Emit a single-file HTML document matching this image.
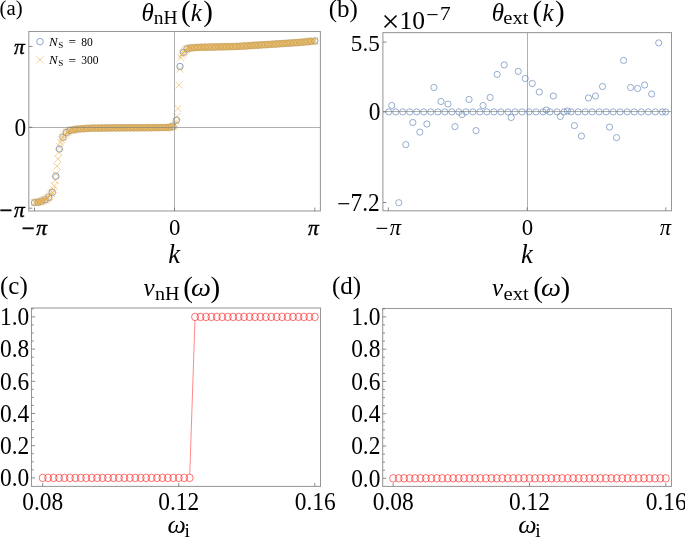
<!DOCTYPE html>
<html lang="en"><head><meta charset="utf-8"><title>Figure</title>
<style>html,body{margin:0;padding:0;background:#fff}body{width:685px;height:537px;overflow:hidden}svg{display:block;will-change:transform}text{font-family:"Liberation Serif", "DejaVu Serif", serif;fill:#000}.it{font-style:italic}</style>
</head><body>
<svg width="685" height="537" viewBox="0 0 685 537">
<rect width="685" height="537" fill="#fff"/>
<g id="panel-a">
<g fill="none" stroke="#5E81B5" stroke-width="0.75">
<circle cx="34.5" cy="202.67" r="3.2"/>
<circle cx="38.05" cy="202.19" r="3.2"/>
<circle cx="41.6" cy="201.16" r="3.2"/>
<circle cx="45.14" cy="199.78" r="3.2"/>
<circle cx="48.69" cy="197.42" r="3.2"/>
<circle cx="52.24" cy="192.39" r="3.2"/>
<circle cx="55.79" cy="176.17" r="3.2"/>
<circle cx="59.34" cy="149.05" r="3.2"/>
<circle cx="62.88" cy="137.23" r="3.2"/>
<circle cx="66.43" cy="132.52" r="3.2"/>
<circle cx="69.98" cy="130.41" r="3.2"/>
<circle cx="73.53" cy="129.78" r="3.2"/>
<circle cx="77.08" cy="129.16" r="3.2"/>
<circle cx="80.63" cy="128.82" r="3.2"/>
<circle cx="84.17" cy="128.59" r="3.2"/>
<circle cx="87.72" cy="128.35" r="3.2"/>
<circle cx="91.27" cy="128.18" r="3.2"/>
<circle cx="94.82" cy="128.14" r="3.2"/>
<circle cx="98.37" cy="128.1" r="3.2"/>
<circle cx="101.91" cy="128.05" r="3.2"/>
<circle cx="105.46" cy="128.01" r="3.2"/>
<circle cx="109.01" cy="127.96" r="3.2"/>
<circle cx="112.56" cy="127.92" r="3.2"/>
<circle cx="116.11" cy="127.89" r="3.2"/>
<circle cx="119.65" cy="127.87" r="3.2"/>
<circle cx="123.2" cy="127.85" r="3.2"/>
<circle cx="126.75" cy="127.83" r="3.2"/>
<circle cx="130.3" cy="127.81" r="3.2"/>
<circle cx="133.85" cy="127.79" r="3.2"/>
<circle cx="137.39" cy="127.77" r="3.2"/>
<circle cx="140.94" cy="127.75" r="3.2"/>
<circle cx="144.49" cy="127.73" r="3.2"/>
<circle cx="148.04" cy="127.71" r="3.2"/>
<circle cx="151.59" cy="127.68" r="3.2"/>
<circle cx="155.14" cy="127.65" r="3.2"/>
<circle cx="158.68" cy="127.61" r="3.2"/>
<circle cx="162.23" cy="127.58" r="3.2"/>
<circle cx="165.78" cy="127.54" r="3.2"/>
<circle cx="169.33" cy="127.51" r="3.2"/>
<circle cx="172.88" cy="126.29" r="3.2"/>
<circle cx="176.42" cy="120.24" r="3.2"/>
<circle cx="179.97" cy="66.46" r="3.2"/>
<circle cx="183.52" cy="52.36" r="3.2"/>
<circle cx="187.07" cy="48.81" r="3.2"/>
<circle cx="190.62" cy="47.9" r="3.2"/>
<circle cx="194.16" cy="47.62" r="3.2"/>
<circle cx="197.71" cy="47.43" r="3.2"/>
<circle cx="201.26" cy="47.27" r="3.2"/>
<circle cx="204.81" cy="47.19" r="3.2"/>
<circle cx="208.36" cy="47.11" r="3.2"/>
<circle cx="211.91" cy="47.04" r="3.2"/>
<circle cx="215.45" cy="46.96" r="3.2"/>
<circle cx="219" cy="46.88" r="3.2"/>
<circle cx="222.55" cy="46.8" r="3.2"/>
<circle cx="226.1" cy="46.72" r="3.2"/>
<circle cx="229.65" cy="46.64" r="3.2"/>
<circle cx="233.19" cy="46.56" r="3.2"/>
<circle cx="236.74" cy="46.45" r="3.2"/>
<circle cx="240.29" cy="46.23" r="3.2"/>
<circle cx="243.84" cy="46.01" r="3.2"/>
<circle cx="247.39" cy="45.79" r="3.2"/>
<circle cx="250.93" cy="45.57" r="3.2"/>
<circle cx="254.48" cy="45.34" r="3.2"/>
<circle cx="258.03" cy="45.12" r="3.2"/>
<circle cx="261.58" cy="44.9" r="3.2"/>
<circle cx="265.13" cy="44.67" r="3.2"/>
<circle cx="268.67" cy="44.44" r="3.2"/>
<circle cx="272.22" cy="44.22" r="3.2"/>
<circle cx="275.77" cy="43.99" r="3.2"/>
<circle cx="279.32" cy="43.76" r="3.2"/>
<circle cx="282.87" cy="43.54" r="3.2"/>
<circle cx="286.42" cy="43.31" r="3.2"/>
<circle cx="289.96" cy="43.07" r="3.2"/>
<circle cx="293.51" cy="42.83" r="3.2"/>
<circle cx="297.06" cy="42.6" r="3.2"/>
<circle cx="300.61" cy="42.34" r="3.2"/>
<circle cx="304.16" cy="41.98" r="3.2"/>
<circle cx="307.7" cy="41.63" r="3.2"/>
<circle cx="311.25" cy="41.27" r="3.2"/>
<circle cx="314.8" cy="40.92" r="3.2"/>
</g>
<path d="M31 199.17l7 7m0 -7l-7 7M31.94 199.05l7 7m0 -7l-7 7M32.87 198.92l7 7m0 -7l-7 7M33.81 198.79l7 7m0 -7l-7 7M34.75 198.63l7 7m0 -7l-7 7M35.69 198.36l7 7m0 -7l-7 7M36.62 198.09l7 7m0 -7l-7 7M37.56 197.83l7 7m0 -7l-7 7M38.5 197.51l7 7m0 -7l-7 7M39.44 197.14l7 7m0 -7l-7 7M40.37 196.77l7 7m0 -7l-7 7M41.31 196.41l7 7m0 -7l-7 7M42.25 195.99l7 7m0 -7l-7 7M43.19 195.33l7 7m0 -7l-7 7M44.12 194.67l7 7m0 -7l-7 7M45.06 194.01l7 7m0 -7l-7 7M46 192.96l7 7m0 -7l-7 7M46.94 191.57l7 7m0 -7l-7 7M47.87 190.17l7 7m0 -7l-7 7M48.81 188.78l7 7m0 -7l-7 7M49.75 185.86l7 7m0 -7l-7 7M50.69 182.55l7 7m0 -7l-7 7M51.62 176.78l7 7m0 -7l-7 7M52.56 170.43l7 7m0 -7l-7 7M53.5 162.66l7 7m0 -7l-7 7M54.44 155.42l7 7m0 -7l-7 7M55.37 148.81l7 7m0 -7l-7 7M56.31 143.27l7 7m0 -7l-7 7M57.25 139.11l7 7m0 -7l-7 7M58.19 136.45l7 7m0 -7l-7 7M59.12 134.33l7 7m0 -7l-7 7M60.06 132.81l7 7m0 -7l-7 7M61 131.54l7 7m0 -7l-7 7M61.94 130.27l7 7m0 -7l-7 7M62.87 129.06l7 7m0 -7l-7 7M63.81 128.5l7 7m0 -7l-7 7M64.75 127.94l7 7m0 -7l-7 7M65.69 127.38l7 7m0 -7l-7 7M66.62 126.88l7 7m0 -7l-7 7M67.56 126.71l7 7m0 -7l-7 7M68.5 126.55l7 7m0 -7l-7 7M69.44 126.39l7 7m0 -7l-7 7M70.37 126.22l7 7m0 -7l-7 7M71.31 126.06l7 7m0 -7l-7 7M72.25 125.89l7 7m0 -7l-7 7M73.19 125.73l7 7m0 -7l-7 7M74.12 125.57l7 7m0 -7l-7 7M75.06 125.46l7 7m0 -7l-7 7M76 125.4l7 7m0 -7l-7 7M76.94 125.34l7 7m0 -7l-7 7M77.87 125.28l7 7m0 -7l-7 7M78.81 125.21l7 7m0 -7l-7 7M79.75 125.15l7 7m0 -7l-7 7M80.69 125.09l7 7m0 -7l-7 7M81.62 125.03l7 7m0 -7l-7 7M82.56 124.96l7 7m0 -7l-7 7M83.5 124.9l7 7m0 -7l-7 7M84.44 124.84l7 7m0 -7l-7 7M85.37 124.78l7 7m0 -7l-7 7M86.31 124.71l7 7m0 -7l-7 7M87.25 124.69l7 7m0 -7l-7 7M88.18 124.68l7 7m0 -7l-7 7M89.12 124.67l7 7m0 -7l-7 7M90.06 124.66l7 7m0 -7l-7 7M91 124.64l7 7m0 -7l-7 7M91.93 124.63l7 7m0 -7l-7 7M92.87 124.62l7 7m0 -7l-7 7M93.81 124.61l7 7m0 -7l-7 7M94.75 124.6l7 7m0 -7l-7 7M95.68 124.59l7 7m0 -7l-7 7M96.62 124.57l7 7m0 -7l-7 7M97.56 124.56l7 7m0 -7l-7 7M98.5 124.55l7 7m0 -7l-7 7M99.43 124.54l7 7m0 -7l-7 7M100.37 124.53l7 7m0 -7l-7 7M101.31 124.51l7 7m0 -7l-7 7M102.25 124.5l7 7m0 -7l-7 7M103.18 124.49l7 7m0 -7l-7 7M104.12 124.48l7 7m0 -7l-7 7M105.06 124.47l7 7m0 -7l-7 7M106 124.46l7 7m0 -7l-7 7M106.93 124.44l7 7m0 -7l-7 7M107.87 124.43l7 7m0 -7l-7 7M108.81 124.42l7 7m0 -7l-7 7M109.75 124.41l7 7m0 -7l-7 7M110.68 124.4l7 7m0 -7l-7 7M111.62 124.39l7 7m0 -7l-7 7M112.56 124.39l7 7m0 -7l-7 7M113.5 124.38l7 7m0 -7l-7 7M114.43 124.38l7 7m0 -7l-7 7M115.37 124.37l7 7m0 -7l-7 7M116.31 124.37l7 7m0 -7l-7 7M117.25 124.36l7 7m0 -7l-7 7M118.18 124.36l7 7m0 -7l-7 7M119.12 124.35l7 7m0 -7l-7 7M120.06 124.35l7 7m0 -7l-7 7M121 124.34l7 7m0 -7l-7 7M121.93 124.34l7 7m0 -7l-7 7M122.87 124.33l7 7m0 -7l-7 7M123.81 124.33l7 7m0 -7l-7 7M124.75 124.32l7 7m0 -7l-7 7M125.68 124.32l7 7m0 -7l-7 7M126.62 124.31l7 7m0 -7l-7 7M127.56 124.31l7 7m0 -7l-7 7M128.5 124.3l7 7m0 -7l-7 7M129.43 124.29l7 7m0 -7l-7 7M130.37 124.29l7 7m0 -7l-7 7M131.31 124.28l7 7m0 -7l-7 7M132.25 124.28l7 7m0 -7l-7 7M133.18 124.27l7 7m0 -7l-7 7M134.12 124.27l7 7m0 -7l-7 7M135.06 124.26l7 7m0 -7l-7 7M136 124.26l7 7m0 -7l-7 7M136.93 124.25l7 7m0 -7l-7 7M137.87 124.25l7 7m0 -7l-7 7M138.81 124.24l7 7m0 -7l-7 7M139.75 124.24l7 7m0 -7l-7 7M140.68 124.23l7 7m0 -7l-7 7M141.62 124.23l7 7m0 -7l-7 7M142.56 124.22l7 7m0 -7l-7 7M143.49 124.22l7 7m0 -7l-7 7M144.43 124.21l7 7m0 -7l-7 7M145.37 124.21l7 7m0 -7l-7 7M146.31 124.2l7 7m0 -7l-7 7M147.24 124.19l7 7m0 -7l-7 7M148.18 124.18l7 7m0 -7l-7 7M149.12 124.17l7 7m0 -7l-7 7M150.06 124.16l7 7m0 -7l-7 7M150.99 124.16l7 7m0 -7l-7 7M151.93 124.15l7 7m0 -7l-7 7M152.87 124.14l7 7m0 -7l-7 7M153.81 124.13l7 7m0 -7l-7 7M154.74 124.12l7 7m0 -7l-7 7M155.68 124.11l7 7m0 -7l-7 7M156.62 124.1l7 7m0 -7l-7 7M157.56 124.09l7 7m0 -7l-7 7M158.49 124.08l7 7m0 -7l-7 7M159.43 124.07l7 7m0 -7l-7 7M160.37 124.06l7 7m0 -7l-7 7M161.31 124.05l7 7m0 -7l-7 7M162.24 124.04l7 7m0 -7l-7 7M163.18 124.03l7 7m0 -7l-7 7M164.12 124.02l7 7m0 -7l-7 7M165.06 124.01l7 7m0 -7l-7 7M165.99 124.01l7 7m0 -7l-7 7M166.93 123.82l7 7m0 -7l-7 7M167.87 123.42l7 7m0 -7l-7 7M168.81 123.03l7 7m0 -7l-7 7M169.74 122.63l7 7m0 -7l-7 7M170.68 122.23l7 7m0 -7l-7 7M171.62 120.75l7 7m0 -7l-7 7M172.56 118.1l7 7m0 -7l-7 7M173.49 113l7 7m0 -7l-7 7M174.43 104.97l7 7m0 -7l-7 7M175.37 81.49l7 7m0 -7l-7 7M176.31 65.67l7 7m0 -7l-7 7M177.24 54.29l7 7m0 -7l-7 7M178.18 51.64l7 7m0 -7l-7 7M179.12 50.1l7 7m0 -7l-7 7M180.06 48.82l7 7m0 -7l-7 7M180.99 47.8l7 7m0 -7l-7 7M181.93 46.78l7 7m0 -7l-7 7M182.87 45.76l7 7m0 -7l-7 7M183.81 45.25l7 7m0 -7l-7 7M184.74 45.01l7 7m0 -7l-7 7M185.68 44.77l7 7m0 -7l-7 7M186.62 44.53l7 7m0 -7l-7 7M187.56 44.3l7 7m0 -7l-7 7M188.49 44.24l7 7m0 -7l-7 7M189.43 44.19l7 7m0 -7l-7 7M190.37 44.14l7 7m0 -7l-7 7M191.31 44.09l7 7m0 -7l-7 7M192.24 44.04l7 7m0 -7l-7 7M193.18 43.98l7 7m0 -7l-7 7M194.12 43.93l7 7m0 -7l-7 7M195.06 43.88l7 7m0 -7l-7 7M195.99 43.83l7 7m0 -7l-7 7M196.93 43.79l7 7m0 -7l-7 7M197.87 43.77l7 7m0 -7l-7 7M198.81 43.75l7 7m0 -7l-7 7M199.74 43.73l7 7m0 -7l-7 7M200.68 43.71l7 7m0 -7l-7 7M201.62 43.69l7 7m0 -7l-7 7M202.55 43.67l7 7m0 -7l-7 7M203.49 43.64l7 7m0 -7l-7 7M204.43 43.62l7 7m0 -7l-7 7M205.37 43.6l7 7m0 -7l-7 7M206.3 43.58l7 7m0 -7l-7 7M207.24 43.56l7 7m0 -7l-7 7M208.18 43.54l7 7m0 -7l-7 7M209.12 43.52l7 7m0 -7l-7 7M210.05 43.5l7 7m0 -7l-7 7M210.99 43.48l7 7m0 -7l-7 7M211.93 43.46l7 7m0 -7l-7 7M212.87 43.44l7 7m0 -7l-7 7M213.8 43.42l7 7m0 -7l-7 7M214.74 43.39l7 7m0 -7l-7 7M215.68 43.37l7 7m0 -7l-7 7M216.62 43.35l7 7m0 -7l-7 7M217.55 43.33l7 7m0 -7l-7 7M218.49 43.31l7 7m0 -7l-7 7M219.43 43.29l7 7m0 -7l-7 7M220.37 43.27l7 7m0 -7l-7 7M221.3 43.25l7 7m0 -7l-7 7M222.24 43.23l7 7m0 -7l-7 7M223.18 43.21l7 7m0 -7l-7 7M224.12 43.19l7 7m0 -7l-7 7M225.05 43.17l7 7m0 -7l-7 7M225.99 43.14l7 7m0 -7l-7 7M226.93 43.12l7 7m0 -7l-7 7M227.87 43.1l7 7m0 -7l-7 7M228.8 43.08l7 7m0 -7l-7 7M229.74 43.06l7 7m0 -7l-7 7M230.68 43.04l7 7m0 -7l-7 7M231.62 43.02l7 7m0 -7l-7 7M232.55 43l7 7m0 -7l-7 7M233.49 42.94l7 7m0 -7l-7 7M234.43 42.88l7 7m0 -7l-7 7M235.37 42.82l7 7m0 -7l-7 7M236.3 42.76l7 7m0 -7l-7 7M237.24 42.7l7 7m0 -7l-7 7M238.18 42.65l7 7m0 -7l-7 7M239.12 42.59l7 7m0 -7l-7 7M240.05 42.53l7 7m0 -7l-7 7M240.99 42.47l7 7m0 -7l-7 7M241.93 42.41l7 7m0 -7l-7 7M242.87 42.35l7 7m0 -7l-7 7M243.8 42.29l7 7m0 -7l-7 7M244.74 42.23l7 7m0 -7l-7 7M245.68 42.18l7 7m0 -7l-7 7M246.62 42.12l7 7m0 -7l-7 7M247.55 42.06l7 7m0 -7l-7 7M248.49 42l7 7m0 -7l-7 7M249.43 41.94l7 7m0 -7l-7 7M250.37 41.88l7 7m0 -7l-7 7M251.3 41.82l7 7m0 -7l-7 7M252.24 41.77l7 7m0 -7l-7 7M253.18 41.71l7 7m0 -7l-7 7M254.12 41.65l7 7m0 -7l-7 7M255.05 41.59l7 7m0 -7l-7 7M255.99 41.53l7 7m0 -7l-7 7M256.93 41.47l7 7m0 -7l-7 7M257.86 41.41l7 7m0 -7l-7 7M258.8 41.35l7 7m0 -7l-7 7M259.74 41.29l7 7m0 -7l-7 7M260.68 41.23l7 7m0 -7l-7 7M261.61 41.17l7 7m0 -7l-7 7M262.55 41.11l7 7m0 -7l-7 7M263.49 41.05l7 7m0 -7l-7 7M264.43 40.99l7 7m0 -7l-7 7M265.36 40.93l7 7m0 -7l-7 7M266.3 40.87l7 7m0 -7l-7 7M267.24 40.81l7 7m0 -7l-7 7M268.18 40.75l7 7m0 -7l-7 7M269.11 40.69l7 7m0 -7l-7 7M270.05 40.63l7 7m0 -7l-7 7M270.99 40.57l7 7m0 -7l-7 7M271.93 40.51l7 7m0 -7l-7 7M272.86 40.45l7 7m0 -7l-7 7M273.8 40.39l7 7m0 -7l-7 7M274.74 40.33l7 7m0 -7l-7 7M275.68 40.27l7 7m0 -7l-7 7M276.61 40.21l7 7m0 -7l-7 7M277.55 40.15l7 7m0 -7l-7 7M278.49 40.09l7 7m0 -7l-7 7M279.43 40.03l7 7m0 -7l-7 7M280.36 39.97l7 7m0 -7l-7 7M281.3 39.91l7 7m0 -7l-7 7M282.24 39.85l7 7m0 -7l-7 7M283.18 39.79l7 7m0 -7l-7 7M284.11 39.73l7 7m0 -7l-7 7M285.05 39.66l7 7m0 -7l-7 7M285.99 39.6l7 7m0 -7l-7 7M286.93 39.54l7 7m0 -7l-7 7M287.86 39.48l7 7m0 -7l-7 7M288.8 39.41l7 7m0 -7l-7 7M289.74 39.35l7 7m0 -7l-7 7M290.68 39.29l7 7m0 -7l-7 7M291.61 39.23l7 7m0 -7l-7 7M292.55 39.16l7 7m0 -7l-7 7M293.49 39.1l7 7m0 -7l-7 7M294.43 39.04l7 7m0 -7l-7 7M295.36 38.98l7 7m0 -7l-7 7M296.3 38.91l7 7m0 -7l-7 7M297.24 38.83l7 7m0 -7l-7 7M298.18 38.73l7 7m0 -7l-7 7M299.11 38.64l7 7m0 -7l-7 7M300.05 38.54l7 7m0 -7l-7 7M300.99 38.45l7 7m0 -7l-7 7M301.93 38.36l7 7m0 -7l-7 7M302.86 38.26l7 7m0 -7l-7 7M303.8 38.17l7 7m0 -7l-7 7M304.74 38.08l7 7m0 -7l-7 7M305.68 37.98l7 7m0 -7l-7 7M306.61 37.89l7 7m0 -7l-7 7M307.55 37.79l7 7m0 -7l-7 7M308.49 37.7l7 7m0 -7l-7 7M309.43 37.61l7 7m0 -7l-7 7M310.36 37.51l7 7m0 -7l-7 7M311.3 37.42l7 7m0 -7l-7 7" fill="none" stroke="#E8AC42" stroke-width="0.62" stroke-opacity="0.9"/>
<line x1="174.5" y1="31.5" x2="174.5" y2="211" stroke="#7A7A7A" stroke-width="0.6"/>
<line x1="28.8" y1="127.5" x2="320.4" y2="127.5" stroke="#7A7A7A" stroke-width="0.6"/>
<rect x="28.8" y="31.5" width="291.6" height="179.5" fill="none" stroke="#989898" stroke-width="1.05"/>
<line x1="28.8" y1="46.5" x2="32.4" y2="46.5" stroke="#686868" stroke-width="0.75"/>
<line x1="28.8" y1="127.3" x2="32.4" y2="127.3" stroke="#686868" stroke-width="0.75"/>
<line x1="28.8" y1="208.2" x2="32.4" y2="208.2" stroke="#686868" stroke-width="0.75"/>
<line x1="34.5" y1="211" x2="34.5" y2="207.6" stroke="#686868" stroke-width="0.75"/>
<line x1="174.5" y1="211" x2="174.5" y2="207.6" stroke="#686868" stroke-width="0.75"/>
<line x1="314.8" y1="211" x2="314.8" y2="207.6" stroke="#686868" stroke-width="0.75"/>
<text x="-0.5" y="14.7" font-size="20.8" text-anchor="start">(a)</text>
<text font-size="25"><tspan class="it" x="141.4" y="20.6">θ</tspan><tspan x="153.8" y="24" font-size="19" textLength="23.8" lengthAdjust="spacingAndGlyphs">nH</tspan><tspan x="181" y="20.8" font-size="29">(</tspan><tspan class="it" x="190.8" y="20.6" >k</tspan><tspan x="203.3" y="20.8" font-size="29">)</tspan></text>
<text x="14" y="54.3" font-size="21.5" text-anchor="start" class="it" stroke="#000" stroke-width="0.4">π</text>
<text transform="translate(26.3 135.6) scale(0.96 1)" font-size="24.4" text-anchor="end">0</text>
<text x="-0.5" y="218" font-size="23" text-anchor="start" stroke="#000" stroke-width="0.4">−</text>
<text x="14" y="216.8" font-size="21.5" text-anchor="start" class="it" stroke="#000" stroke-width="0.4">π</text>
<text x="21.7" y="236.1" font-size="23" text-anchor="start" stroke="#000" stroke-width="0.4">−</text>
<text x="36.3" y="234.9" font-size="21.5" text-anchor="start" class="it" stroke="#000" stroke-width="0.4">π</text>
<text transform="translate(174.7 234.8) scale(1.02 1)" font-size="22.4" text-anchor="middle">0</text>
<text x="308" y="235.2" font-size="21.5" text-anchor="start" class="it" stroke="#000" stroke-width="0.4">π</text>
<text x="174.2" y="263" font-size="26.5" text-anchor="middle" class="it">k</text>
<circle cx="40" cy="41.6" r="3.3" fill="none" stroke="#5E81B5" stroke-width="0.7"/>
<path d="M36.4 56.2l7.2 7.2m0 -7.2l-7.2 7.2" fill="none" stroke="#E19C24" stroke-width="0.6" stroke-opacity="0.8"/>
<text x="49" y="45.7" font-size="13" text-anchor="start" class="it">N</text>
<text x="58.2" y="47.6" font-size="9" text-anchor="start">S</text>
<text x="68.4" y="46.3" font-size="13.5" text-anchor="start">=</text>
<text transform="translate(81.2 45.7) scale(0.86 1)" font-size="13.4" text-anchor="start">80</text>
<text x="49" y="63.9" font-size="13" text-anchor="start" class="it">N</text>
<text x="58.2" y="65.8" font-size="9" text-anchor="start">S</text>
<text x="68.4" y="64.5" font-size="13.5" text-anchor="start">=</text>
<text transform="translate(81.2 63.9) scale(0.86 1)" font-size="13.4" text-anchor="start">300</text>
</g>
<g id="panel-b">
<g fill="none" stroke="#5E81B5" stroke-width="0.65">
<circle cx="388.7" cy="111.9" r="3.1"/>
<circle cx="395.71" cy="111.9" r="3.1"/>
<circle cx="402.73" cy="111.9" r="3.1"/>
<circle cx="409.75" cy="111.9" r="3.1"/>
<circle cx="416.76" cy="111.9" r="3.1"/>
<circle cx="423.77" cy="111.9" r="3.1"/>
<circle cx="430.79" cy="111.9" r="3.1"/>
<circle cx="437.81" cy="111.9" r="3.1"/>
<circle cx="444.82" cy="111.9" r="3.1"/>
<circle cx="451.83" cy="111.9" r="3.1"/>
<circle cx="458.85" cy="111.9" r="3.1"/>
<circle cx="465.87" cy="111.9" r="3.1"/>
<circle cx="472.88" cy="111.9" r="3.1"/>
<circle cx="479.89" cy="111.9" r="3.1"/>
<circle cx="486.91" cy="111.9" r="3.1"/>
<circle cx="493.92" cy="111.9" r="3.1"/>
<circle cx="500.94" cy="111.9" r="3.1"/>
<circle cx="507.95" cy="111.9" r="3.1"/>
<circle cx="514.97" cy="111.9" r="3.1"/>
<circle cx="521.99" cy="111.9" r="3.1"/>
<circle cx="529" cy="111.9" r="3.1"/>
<circle cx="536.01" cy="111.9" r="3.1"/>
<circle cx="543.03" cy="111.9" r="3.1"/>
<circle cx="550.04" cy="111.9" r="3.1"/>
<circle cx="557.06" cy="111.9" r="3.1"/>
<circle cx="564.08" cy="111.9" r="3.1"/>
<circle cx="571.09" cy="111.9" r="3.1"/>
<circle cx="578.11" cy="111.9" r="3.1"/>
<circle cx="585.12" cy="111.9" r="3.1"/>
<circle cx="592.13" cy="111.9" r="3.1"/>
<circle cx="599.15" cy="111.9" r="3.1"/>
<circle cx="606.16" cy="111.9" r="3.1"/>
<circle cx="613.18" cy="111.9" r="3.1"/>
<circle cx="620.19" cy="111.9" r="3.1"/>
<circle cx="627.21" cy="111.9" r="3.1"/>
<circle cx="634.22" cy="111.9" r="3.1"/>
<circle cx="641.24" cy="111.9" r="3.1"/>
<circle cx="648.25" cy="111.9" r="3.1"/>
<circle cx="655.27" cy="111.9" r="3.1"/>
<circle cx="662.28" cy="111.9" r="3.1"/>
<circle cx="391.75" cy="105.5" r="3.1"/>
<circle cx="398.77" cy="202.7" r="3.1"/>
<circle cx="405.8" cy="144.6" r="3.1"/>
<circle cx="412.82" cy="122.5" r="3.1"/>
<circle cx="419.85" cy="132.1" r="3.1"/>
<circle cx="426.88" cy="124" r="3.1"/>
<circle cx="433.9" cy="87.5" r="3.1"/>
<circle cx="440.93" cy="101.5" r="3.1"/>
<circle cx="447.95" cy="104" r="3.1"/>
<circle cx="454.98" cy="126.6" r="3.1"/>
<circle cx="462" cy="114.5" r="3.1"/>
<circle cx="469.02" cy="99.5" r="3.1"/>
<circle cx="476.05" cy="130.6" r="3.1"/>
<circle cx="483.07" cy="105.5" r="3.1"/>
<circle cx="490.1" cy="97.5" r="3.1"/>
<circle cx="497.12" cy="74.4" r="3.1"/>
<circle cx="504.15" cy="64.9" r="3.1"/>
<circle cx="511.18" cy="117.5" r="3.1"/>
<circle cx="518.2" cy="71.4" r="3.1"/>
<circle cx="525.23" cy="78.5" r="3.1"/>
<circle cx="532.25" cy="83.5" r="3.1"/>
<circle cx="539.27" cy="92" r="3.1"/>
<circle cx="546.3" cy="110" r="3.1"/>
<circle cx="553.33" cy="96" r="3.1"/>
<circle cx="560.35" cy="116.5" r="3.1"/>
<circle cx="567.38" cy="111" r="3.1"/>
<circle cx="574.4" cy="125.6" r="3.1"/>
<circle cx="581.42" cy="136.1" r="3.1"/>
<circle cx="588.45" cy="98" r="3.1"/>
<circle cx="595.48" cy="96" r="3.1"/>
<circle cx="602.5" cy="86.5" r="3.1"/>
<circle cx="609.52" cy="127.1" r="3.1"/>
<circle cx="616.55" cy="137.6" r="3.1"/>
<circle cx="623.58" cy="60.4" r="3.1"/>
<circle cx="630.6" cy="87.5" r="3.1"/>
<circle cx="637.62" cy="88.5" r="3.1"/>
<circle cx="644.65" cy="85" r="3.1"/>
<circle cx="651.67" cy="94" r="3.1"/>
<circle cx="658.7" cy="42.9" r="3.1"/>
<circle cx="665.73" cy="111.9" r="3.1"/>
</g>
<line x1="527.5" y1="32.6" x2="527.5" y2="210.8" stroke="#7A7A7A" stroke-width="0.6"/>
<line x1="382.9" y1="111.5" x2="671.5" y2="111.5" stroke="#7A7A7A" stroke-width="0.6"/>
<rect x="382.9" y="32.6" width="288.6" height="178.2" fill="none" stroke="#989898" stroke-width="1.05"/>
<line x1="382.9" y1="42.1" x2="386.5" y2="42.1" stroke="#686868" stroke-width="0.75"/>
<line x1="382.9" y1="111.9" x2="386.5" y2="111.9" stroke="#686868" stroke-width="0.75"/>
<line x1="382.9" y1="202.5" x2="386.5" y2="202.5" stroke="#686868" stroke-width="0.75"/>
<line x1="388.4" y1="210.8" x2="388.4" y2="207.4" stroke="#686868" stroke-width="0.75"/>
<line x1="527.2" y1="210.8" x2="527.2" y2="207.4" stroke="#686868" stroke-width="0.75"/>
<line x1="665.8" y1="210.8" x2="665.8" y2="207.4" stroke="#686868" stroke-width="0.75"/>
<text x="328.7" y="17.4" font-size="25" text-anchor="start">(b)</text>
<text x="381.4" y="31.8" font-size="32" text-anchor="start">×</text>
<text x="399.6" y="28.5" font-size="25.5" text-anchor="start">10</text>
<text x="426.2" y="22" font-size="22" text-anchor="start">−</text>
<text transform="translate(440 19.5) scale(1.2 1)" font-size="17.8" text-anchor="start">7</text>
<text font-size="25"><tspan class="it" x="491.7" y="20.6">θ</tspan><tspan x="503.3" y="24" font-size="19" textLength="25.2" lengthAdjust="spacingAndGlyphs">ext</tspan><tspan x="532.6" y="20.8" font-size="29">(</tspan><tspan class="it" x="542.4" y="20.6" >k</tspan><tspan x="554.9" y="20.8" font-size="29">)</tspan></text>
<text transform="translate(379.8 50.6) scale(0.99 1)" font-size="23.4" text-anchor="end">5.5</text>
<text transform="translate(380.4 119.9) scale(0.96 1)" font-size="24.4" text-anchor="end">0</text>
<text transform="translate(379.8 211) scale(0.96 1)" font-size="24.4" text-anchor="end"><tspan dy="1.4">−</tspan><tspan dy="-1.4">7.2</tspan></text>
<text x="375.4" y="236.4" font-size="23" text-anchor="start">−</text>
<text x="389.8" y="235.2" font-size="22.5" text-anchor="start" class="it">π</text>
<text transform="translate(527.4 234.8) scale(1.02 1)" font-size="22.4" text-anchor="middle">0</text>
<text x="659.7" y="235.2" font-size="22.5" text-anchor="start" class="it">π</text>
<text x="526.9" y="263" font-size="26.5" text-anchor="middle" class="it">k</text>
</g>
<g id="panel-c">
<line x1="189.76" y1="474.3" x2="194.95" y2="320.5" stroke="#FF1212" stroke-width="0.5"/>
<g fill="none" stroke="#FF1212" stroke-width="0.6">
<ellipse cx="42.7" cy="477.9" rx="3.5" ry="3.75"/>
<ellipse cx="48.14" cy="477.9" rx="3.5" ry="3.75"/>
<ellipse cx="53.58" cy="477.9" rx="3.5" ry="3.75"/>
<ellipse cx="59.03" cy="477.9" rx="3.5" ry="3.75"/>
<ellipse cx="64.47" cy="477.9" rx="3.5" ry="3.75"/>
<ellipse cx="69.91" cy="477.9" rx="3.5" ry="3.75"/>
<ellipse cx="75.35" cy="477.9" rx="3.5" ry="3.75"/>
<ellipse cx="80.79" cy="477.9" rx="3.5" ry="3.75"/>
<ellipse cx="86.24" cy="477.9" rx="3.5" ry="3.75"/>
<ellipse cx="91.68" cy="477.9" rx="3.5" ry="3.75"/>
<ellipse cx="97.12" cy="477.9" rx="3.5" ry="3.75"/>
<ellipse cx="102.56" cy="477.9" rx="3.5" ry="3.75"/>
<ellipse cx="108" cy="477.9" rx="3.5" ry="3.75"/>
<ellipse cx="113.45" cy="477.9" rx="3.5" ry="3.75"/>
<ellipse cx="118.89" cy="477.9" rx="3.5" ry="3.75"/>
<ellipse cx="124.33" cy="477.9" rx="3.5" ry="3.75"/>
<ellipse cx="129.77" cy="477.9" rx="3.5" ry="3.75"/>
<ellipse cx="135.21" cy="477.9" rx="3.5" ry="3.75"/>
<ellipse cx="140.66" cy="477.9" rx="3.5" ry="3.75"/>
<ellipse cx="146.1" cy="477.9" rx="3.5" ry="3.75"/>
<ellipse cx="151.54" cy="477.9" rx="3.5" ry="3.75"/>
<ellipse cx="156.98" cy="477.9" rx="3.5" ry="3.75"/>
<ellipse cx="162.42" cy="477.9" rx="3.5" ry="3.75"/>
<ellipse cx="167.87" cy="477.9" rx="3.5" ry="3.75"/>
<ellipse cx="173.31" cy="477.9" rx="3.5" ry="3.75"/>
<ellipse cx="178.75" cy="477.9" rx="3.5" ry="3.75"/>
<ellipse cx="184.19" cy="477.9" rx="3.5" ry="3.75"/>
<ellipse cx="189.63" cy="477.9" rx="3.5" ry="3.75"/>
<ellipse cx="195.08" cy="316.9" rx="3.5" ry="3.75"/>
<ellipse cx="200.52" cy="316.9" rx="3.5" ry="3.75"/>
<ellipse cx="205.96" cy="316.9" rx="3.5" ry="3.75"/>
<ellipse cx="211.4" cy="316.9" rx="3.5" ry="3.75"/>
<ellipse cx="216.84" cy="316.9" rx="3.5" ry="3.75"/>
<ellipse cx="222.29" cy="316.9" rx="3.5" ry="3.75"/>
<ellipse cx="227.73" cy="316.9" rx="3.5" ry="3.75"/>
<ellipse cx="233.17" cy="316.9" rx="3.5" ry="3.75"/>
<ellipse cx="238.61" cy="316.9" rx="3.5" ry="3.75"/>
<ellipse cx="244.05" cy="316.9" rx="3.5" ry="3.75"/>
<ellipse cx="249.5" cy="316.9" rx="3.5" ry="3.75"/>
<ellipse cx="254.94" cy="316.9" rx="3.5" ry="3.75"/>
<ellipse cx="260.38" cy="316.9" rx="3.5" ry="3.75"/>
<ellipse cx="265.82" cy="316.9" rx="3.5" ry="3.75"/>
<ellipse cx="271.26" cy="316.9" rx="3.5" ry="3.75"/>
<ellipse cx="276.71" cy="316.9" rx="3.5" ry="3.75"/>
<ellipse cx="282.15" cy="316.9" rx="3.5" ry="3.75"/>
<ellipse cx="287.59" cy="316.9" rx="3.5" ry="3.75"/>
<ellipse cx="293.03" cy="316.9" rx="3.5" ry="3.75"/>
<ellipse cx="298.47" cy="316.9" rx="3.5" ry="3.75"/>
<ellipse cx="303.92" cy="316.9" rx="3.5" ry="3.75"/>
<ellipse cx="309.36" cy="316.9" rx="3.5" ry="3.75"/>
<ellipse cx="314.8" cy="316.9" rx="3.5" ry="3.75"/>
</g>
<rect x="31.5" y="308" width="289" height="178.4" fill="none" stroke="#989898" stroke-width="1.05"/>
<line x1="31.5" y1="477.9" x2="35.1" y2="477.9" stroke="#686868" stroke-width="0.75"/>
<line x1="31.5" y1="469.85" x2="33.8" y2="469.85" stroke="#686868" stroke-width="0.75"/>
<line x1="31.5" y1="461.8" x2="33.8" y2="461.8" stroke="#686868" stroke-width="0.75"/>
<line x1="31.5" y1="453.75" x2="33.8" y2="453.75" stroke="#686868" stroke-width="0.75"/>
<line x1="31.5" y1="445.7" x2="35.1" y2="445.7" stroke="#686868" stroke-width="0.75"/>
<line x1="31.5" y1="437.65" x2="33.8" y2="437.65" stroke="#686868" stroke-width="0.75"/>
<line x1="31.5" y1="429.6" x2="33.8" y2="429.6" stroke="#686868" stroke-width="0.75"/>
<line x1="31.5" y1="421.55" x2="33.8" y2="421.55" stroke="#686868" stroke-width="0.75"/>
<line x1="31.5" y1="413.5" x2="35.1" y2="413.5" stroke="#686868" stroke-width="0.75"/>
<line x1="31.5" y1="405.45" x2="33.8" y2="405.45" stroke="#686868" stroke-width="0.75"/>
<line x1="31.5" y1="397.4" x2="33.8" y2="397.4" stroke="#686868" stroke-width="0.75"/>
<line x1="31.5" y1="389.35" x2="33.8" y2="389.35" stroke="#686868" stroke-width="0.75"/>
<line x1="31.5" y1="381.3" x2="35.1" y2="381.3" stroke="#686868" stroke-width="0.75"/>
<line x1="31.5" y1="373.25" x2="33.8" y2="373.25" stroke="#686868" stroke-width="0.75"/>
<line x1="31.5" y1="365.2" x2="33.8" y2="365.2" stroke="#686868" stroke-width="0.75"/>
<line x1="31.5" y1="357.15" x2="33.8" y2="357.15" stroke="#686868" stroke-width="0.75"/>
<line x1="31.5" y1="349.1" x2="35.1" y2="349.1" stroke="#686868" stroke-width="0.75"/>
<line x1="31.5" y1="341.05" x2="33.8" y2="341.05" stroke="#686868" stroke-width="0.75"/>
<line x1="31.5" y1="333" x2="33.8" y2="333" stroke="#686868" stroke-width="0.75"/>
<line x1="31.5" y1="324.95" x2="33.8" y2="324.95" stroke="#686868" stroke-width="0.75"/>
<line x1="31.5" y1="316.9" x2="35.1" y2="316.9" stroke="#686868" stroke-width="0.75"/>
<line x1="31.5" y1="308.85" x2="33.8" y2="308.85" stroke="#686868" stroke-width="0.75"/>
<line x1="42.7" y1="486.4" x2="42.7" y2="483" stroke="#686868" stroke-width="0.75"/>
<line x1="178.75" y1="486.4" x2="178.75" y2="483" stroke="#686868" stroke-width="0.75"/>
<line x1="314.8" y1="486.4" x2="314.8" y2="483" stroke="#686868" stroke-width="0.75"/>
<text transform="translate(29.2 486.1) scale(0.96 1)" font-size="24.4" text-anchor="end">0.0</text>
<text transform="translate(29.2 453.9) scale(0.96 1)" font-size="24.4" text-anchor="end">0.2</text>
<text transform="translate(29.2 421.7) scale(0.96 1)" font-size="24.4" text-anchor="end">0.4</text>
<text transform="translate(29.2 389.5) scale(0.96 1)" font-size="24.4" text-anchor="end">0.6</text>
<text transform="translate(29.2 357.3) scale(0.96 1)" font-size="24.4" text-anchor="end">0.8</text>
<text transform="translate(29.2 325.1) scale(0.96 1)" font-size="24.4" text-anchor="end">1.0</text>
<text transform="translate(42.7 510.4) scale(0.96 1)" font-size="24.4" text-anchor="middle">0.08</text>
<text transform="translate(178.75 510.4) scale(0.96 1)" font-size="24.4" text-anchor="middle">0.12</text>
<text transform="translate(315.3 510.4) scale(0.96 1)" font-size="24.4" text-anchor="middle">0.16</text>
<text x="0" y="293.5" font-size="25" text-anchor="start">(c)</text>
<text font-size="25"><tspan class="it" x="143.5" y="295.7">ν</tspan><tspan x="154.9" y="299.7" font-size="19" textLength="24.5" lengthAdjust="spacingAndGlyphs">nH</tspan><tspan x="183.3" y="296.7" font-size="29">(</tspan><tspan class="it" x="190.9" y="295.7" textLength="20" lengthAdjust="spacingAndGlyphs">ω</tspan><tspan x="210.5" y="296.7" font-size="29">)</tspan></text>
<text x="167.55" y="532.6" font-size="26" text-anchor="start" class="it">ω</text>
<text x="184.55" y="536.8" font-size="19.5" text-anchor="start">i</text>
</g>
<g id="panel-d">
<g fill="none" stroke="#FF1212" stroke-width="0.6">
<ellipse cx="393.2" cy="478.3" rx="3.5" ry="3.75"/>
<ellipse cx="398.65" cy="478.3" rx="3.5" ry="3.75"/>
<ellipse cx="404.1" cy="478.3" rx="3.5" ry="3.75"/>
<ellipse cx="409.56" cy="478.3" rx="3.5" ry="3.75"/>
<ellipse cx="415.01" cy="478.3" rx="3.5" ry="3.75"/>
<ellipse cx="420.46" cy="478.3" rx="3.5" ry="3.75"/>
<ellipse cx="425.91" cy="478.3" rx="3.5" ry="3.75"/>
<ellipse cx="431.36" cy="478.3" rx="3.5" ry="3.75"/>
<ellipse cx="436.82" cy="478.3" rx="3.5" ry="3.75"/>
<ellipse cx="442.27" cy="478.3" rx="3.5" ry="3.75"/>
<ellipse cx="447.72" cy="478.3" rx="3.5" ry="3.75"/>
<ellipse cx="453.17" cy="478.3" rx="3.5" ry="3.75"/>
<ellipse cx="458.62" cy="478.3" rx="3.5" ry="3.75"/>
<ellipse cx="464.08" cy="478.3" rx="3.5" ry="3.75"/>
<ellipse cx="469.53" cy="478.3" rx="3.5" ry="3.75"/>
<ellipse cx="474.98" cy="478.3" rx="3.5" ry="3.75"/>
<ellipse cx="480.43" cy="478.3" rx="3.5" ry="3.75"/>
<ellipse cx="485.88" cy="478.3" rx="3.5" ry="3.75"/>
<ellipse cx="491.34" cy="478.3" rx="3.5" ry="3.75"/>
<ellipse cx="496.79" cy="478.3" rx="3.5" ry="3.75"/>
<ellipse cx="502.24" cy="478.3" rx="3.5" ry="3.75"/>
<ellipse cx="507.69" cy="478.3" rx="3.5" ry="3.75"/>
<ellipse cx="513.14" cy="478.3" rx="3.5" ry="3.75"/>
<ellipse cx="518.6" cy="478.3" rx="3.5" ry="3.75"/>
<ellipse cx="524.05" cy="478.3" rx="3.5" ry="3.75"/>
<ellipse cx="529.5" cy="478.3" rx="3.5" ry="3.75"/>
<ellipse cx="534.95" cy="478.3" rx="3.5" ry="3.75"/>
<ellipse cx="540.4" cy="478.3" rx="3.5" ry="3.75"/>
<ellipse cx="545.86" cy="478.3" rx="3.5" ry="3.75"/>
<ellipse cx="551.31" cy="478.3" rx="3.5" ry="3.75"/>
<ellipse cx="556.76" cy="478.3" rx="3.5" ry="3.75"/>
<ellipse cx="562.21" cy="478.3" rx="3.5" ry="3.75"/>
<ellipse cx="567.66" cy="478.3" rx="3.5" ry="3.75"/>
<ellipse cx="573.12" cy="478.3" rx="3.5" ry="3.75"/>
<ellipse cx="578.57" cy="478.3" rx="3.5" ry="3.75"/>
<ellipse cx="584.02" cy="478.3" rx="3.5" ry="3.75"/>
<ellipse cx="589.47" cy="478.3" rx="3.5" ry="3.75"/>
<ellipse cx="594.92" cy="478.3" rx="3.5" ry="3.75"/>
<ellipse cx="600.38" cy="478.3" rx="3.5" ry="3.75"/>
<ellipse cx="605.83" cy="478.3" rx="3.5" ry="3.75"/>
<ellipse cx="611.28" cy="478.3" rx="3.5" ry="3.75"/>
<ellipse cx="616.73" cy="478.3" rx="3.5" ry="3.75"/>
<ellipse cx="622.18" cy="478.3" rx="3.5" ry="3.75"/>
<ellipse cx="627.64" cy="478.3" rx="3.5" ry="3.75"/>
<ellipse cx="633.09" cy="478.3" rx="3.5" ry="3.75"/>
<ellipse cx="638.54" cy="478.3" rx="3.5" ry="3.75"/>
<ellipse cx="643.99" cy="478.3" rx="3.5" ry="3.75"/>
<ellipse cx="649.44" cy="478.3" rx="3.5" ry="3.75"/>
<ellipse cx="654.9" cy="478.3" rx="3.5" ry="3.75"/>
<ellipse cx="660.35" cy="478.3" rx="3.5" ry="3.75"/>
<ellipse cx="665.8" cy="478.3" rx="3.5" ry="3.75"/>
</g>
<rect x="382.7" y="308.5" width="288.8" height="177.9" fill="none" stroke="#989898" stroke-width="1.05"/>
<line x1="382.7" y1="478.3" x2="386.3" y2="478.3" stroke="#686868" stroke-width="0.75"/>
<line x1="382.7" y1="470.23" x2="385" y2="470.23" stroke="#686868" stroke-width="0.75"/>
<line x1="382.7" y1="462.16" x2="385" y2="462.16" stroke="#686868" stroke-width="0.75"/>
<line x1="382.7" y1="454.09" x2="385" y2="454.09" stroke="#686868" stroke-width="0.75"/>
<line x1="382.7" y1="446.02" x2="386.3" y2="446.02" stroke="#686868" stroke-width="0.75"/>
<line x1="382.7" y1="437.95" x2="385" y2="437.95" stroke="#686868" stroke-width="0.75"/>
<line x1="382.7" y1="429.88" x2="385" y2="429.88" stroke="#686868" stroke-width="0.75"/>
<line x1="382.7" y1="421.81" x2="385" y2="421.81" stroke="#686868" stroke-width="0.75"/>
<line x1="382.7" y1="413.74" x2="386.3" y2="413.74" stroke="#686868" stroke-width="0.75"/>
<line x1="382.7" y1="405.67" x2="385" y2="405.67" stroke="#686868" stroke-width="0.75"/>
<line x1="382.7" y1="397.6" x2="385" y2="397.6" stroke="#686868" stroke-width="0.75"/>
<line x1="382.7" y1="389.53" x2="385" y2="389.53" stroke="#686868" stroke-width="0.75"/>
<line x1="382.7" y1="381.46" x2="386.3" y2="381.46" stroke="#686868" stroke-width="0.75"/>
<line x1="382.7" y1="373.39" x2="385" y2="373.39" stroke="#686868" stroke-width="0.75"/>
<line x1="382.7" y1="365.32" x2="385" y2="365.32" stroke="#686868" stroke-width="0.75"/>
<line x1="382.7" y1="357.25" x2="385" y2="357.25" stroke="#686868" stroke-width="0.75"/>
<line x1="382.7" y1="349.18" x2="386.3" y2="349.18" stroke="#686868" stroke-width="0.75"/>
<line x1="382.7" y1="341.11" x2="385" y2="341.11" stroke="#686868" stroke-width="0.75"/>
<line x1="382.7" y1="333.04" x2="385" y2="333.04" stroke="#686868" stroke-width="0.75"/>
<line x1="382.7" y1="324.97" x2="385" y2="324.97" stroke="#686868" stroke-width="0.75"/>
<line x1="382.7" y1="316.9" x2="386.3" y2="316.9" stroke="#686868" stroke-width="0.75"/>
<line x1="382.7" y1="308.83" x2="385" y2="308.83" stroke="#686868" stroke-width="0.75"/>
<line x1="393.2" y1="486.4" x2="393.2" y2="483" stroke="#686868" stroke-width="0.75"/>
<line x1="529.5" y1="486.4" x2="529.5" y2="483" stroke="#686868" stroke-width="0.75"/>
<line x1="665.8" y1="486.4" x2="665.8" y2="483" stroke="#686868" stroke-width="0.75"/>
<text transform="translate(380.4 486.5) scale(0.96 1)" font-size="24.4" text-anchor="end">0.0</text>
<text transform="translate(380.4 454.22) scale(0.96 1)" font-size="24.4" text-anchor="end">0.2</text>
<text transform="translate(380.4 421.94) scale(0.96 1)" font-size="24.4" text-anchor="end">0.4</text>
<text transform="translate(380.4 389.66) scale(0.96 1)" font-size="24.4" text-anchor="end">0.6</text>
<text transform="translate(380.4 357.38) scale(0.96 1)" font-size="24.4" text-anchor="end">0.8</text>
<text transform="translate(380.4 325.1) scale(0.96 1)" font-size="24.4" text-anchor="end">1.0</text>
<text transform="translate(393.2 510.4) scale(0.96 1)" font-size="24.4" text-anchor="middle">0.08</text>
<text transform="translate(529.5 510.4) scale(0.96 1)" font-size="24.4" text-anchor="middle">0.12</text>
<text transform="translate(666.3 510.4) scale(0.96 1)" font-size="24.4" text-anchor="middle">0.16</text>
<text x="332" y="293.5" font-size="25" text-anchor="start">(d)</text>
<text font-size="25"><tspan class="it" x="491.9" y="295.7">ν</tspan><tspan x="503.5" y="299.7" font-size="19" textLength="25.2" lengthAdjust="spacingAndGlyphs">ext</tspan><tspan x="533.3" y="296.7" font-size="29">(</tspan><tspan class="it" x="540.9" y="295.7" textLength="20" lengthAdjust="spacingAndGlyphs">ω</tspan><tspan x="560.5" y="296.7" font-size="29">)</tspan></text>
<text x="518.3" y="532.6" font-size="26" text-anchor="start" class="it">ω</text>
<text x="535.3" y="536.8" font-size="19.5" text-anchor="start">i</text>
</g>
</svg></body></html>
